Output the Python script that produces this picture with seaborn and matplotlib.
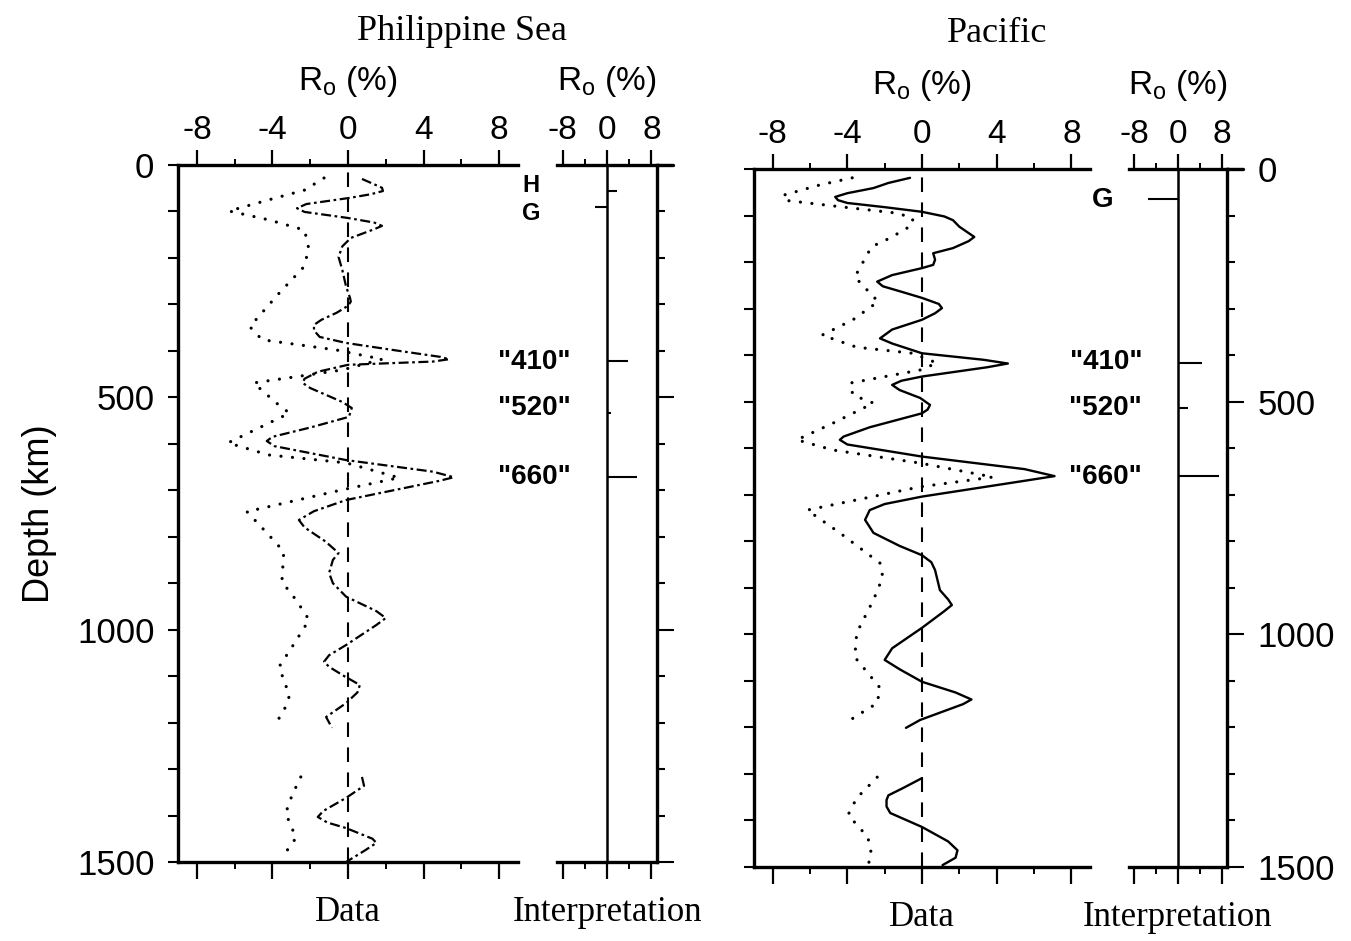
import numpy as np
import pandas as pd
import matplotlib
matplotlib.use("Agg")
import matplotlib.pyplot as plt
from matplotlib.ticker import FixedLocator
import seaborn as sns

# ---------------- data ----------------
# Philippine Sea - observed R_o (dash-dot curve), two depth segments
phs_obs_depth_a = [30, 40, 49, 56, 63, 71, 84, 93, 101, 114, 124, 131, 138, 157, 175, 198, 226, 262,
                   285, 294, 303, 318, 333, 344, 356, 370, 383, 400, 413, 418, 423, 430, 445, 460,
                   469, 480, 510, 523, 542, 565, 585, 594, 605, 635, 660, 672, 680, 721, 745, 764,
                   780, 810, 835, 850, 878, 900, 929, 960, 975, 990, 1033, 1055, 1069, 1080, 1100,
                   1119, 1135, 1158, 1188, 1211]
phs_obs_ro_a = [0.74, 1.3, 1.8, 1.85, 1.2, 0.05, -2.2, -2.7, -2.3, 0.0, 1.4, 1.8, 1.4, 0.15, -0.3,
                -0.5, -0.3, -0.1, 0.1, 0.15, 0.0, -0.6, -1.4, -1.8, -1.8, -1.5, -0.1, 2.7, 4.9, 5.35,
                4.5, 0.0, -1.6, -2.3, -2.4, -2.0, -0.3, 0.2, 0.05, -2.0, -4.0, -4.3, -3.9, -0.1, 4.5,
                5.6, 4.8, -0.1, -1.8, -2.6, -2.3, -1.2, -0.5, -0.8, -1.0, -0.8, -0.1, 1.5, 2.0, 1.5,
                -0.1, -1.0, -1.27, -1.0, -0.2, 0.63, 0.5, -0.1, -1.16, -0.85]
phs_obs_depth_b = [1317, 1336, 1362, 1390, 1403, 1415, 1427, 1450, 1459, 1475, 1500]
phs_obs_ro_b = [0.74, 0.85, -0.1, -1.3, -1.6, -1.1, -0.1, 1.3, 1.5, 0.9, -0.1]

# Philippine Sea - dotted curve
phs_dot_depth_a = [28, 54, 75, 99, 118, 140, 183, 222, 276, 348, 376, 398, 418, 441, 469, 512, 534,
                   598, 624, 641, 673, 699, 746, 796, 832, 897, 936, 979, 1037, 1080, 1142, 1166, 1201]
phs_dot_ro_a = [-1.27, -2.3, -4.2, -6.3, -4.2, -2.3, -2.06, -2.4, -3.65, -5.2, -4.55, -0.63, 1.8, -0.3,
                -5.0, -3.8, -3.1, -6.35, -4.2, -0.1, 2.7, -0.3, -5.35, -4.2, -3.4, -3.5, -2.75, -2.06,
                -2.96, -3.65, -3.1, -3.3, -3.8]
phs_dot_depth_b = [1317, 1356, 1395, 1448, 1485]
phs_dot_ro_b = [-2.5, -2.96, -3.3, -2.75, -3.4]

# Pacific - observed R_o (solid curve)
pac_obs_depth_a = [19, 30, 41, 52, 60, 67, 73, 82, 92, 102, 110, 124, 135, 146, 155, 170, 181, 195,
                   206, 213, 228, 242, 252, 265, 277, 290, 299, 310, 324, 345, 364, 375, 396, 410,
                   418, 426, 446, 455, 464, 475, 492, 507, 517, 525, 555, 575, 582, 592, 618, 645,
                   660, 670, 704, 720, 733, 754, 782, 810, 830, 845, 862, 905, 925, 937, 950, 986,
                   1030, 1055, 1075, 1102, 1125, 1140, 1150, 1184, 1201]
pac_obs_ro_a = [-0.64, -1.8, -2.6, -4.0, -4.65, -4.5, -4.0, -2.0, 0.0, 1.2, 1.66, 2.0, 2.4, 2.8, 2.5,
                1.66, 0.6, 0.7, 0.6, 0.0, -1.6, -2.4, -2.1, -1.0, 0.0, 0.9, 1.07, 0.7, 0.0, -1.6,
                -2.25, -1.6, 0.0, 3.3, 4.6, 3.5, 0.0, -1.1, -1.6, -1.2, -0.1, 0.43, 0.3, 0.0, -2.8,
                -4.2, -4.4, -4.0, 0.0, 5.5, 7.1, 5.5, 0.0, -2.0, -2.8, -3.05, -2.6, -1.2, 0.0, 0.5,
                0.7, 0.96, 1.4, 1.6, 1.2, 0.0, -1.6, -2.0, -1.2, 0.0, 1.8, 2.65, 2.2, -0.1, -0.86]
pac_obs_depth_b = [1309, 1330, 1346, 1356, 1370, 1384, 1414, 1445, 1464, 1480, 1496]
pac_obs_ro_b = [0.0, -1.0, -1.8, -1.9, -1.9, -1.7, 0.0, 1.4, 1.9, 1.8, 1.1]

# Pacific - dotted curve
pac_dot_depth_a = [19, 34, 56, 67, 81, 95, 106, 120, 148, 167, 232, 285, 324, 357, 383, 396, 417, 432,
                   460, 486, 503, 546, 582, 604, 632, 662, 683, 733, 782, 847, 877, 926, 997, 1049,
                   1115, 1148, 1180, 1199]
pac_dot_ro_a = [-3.74, -5.45, -7.4, -7.4, -4.4, -1.3, -0.5, -0.5, -1.7, -2.7, -3.6, -2.35, -3.7, -5.35,
                -3.5, -0.5, 0.8, -0.1, -3.85, -3.7, -2.6, -4.76, -6.7, -4.76, -0.1, 3.8, -0.1, -6.15,
                -4.4, -2.25, -2.1, -2.6, -3.5, -3.6, -2.25, -2.4, -3.7, -4.0]
pac_dot_depth_b = [1307, 1352, 1388, 1436, 1474, 1496]
pac_dot_ro_b = [-2.4, -3.5, -3.96, -2.9, -2.7, -2.9]

# Interpretation bars
phs_int_depth = [56, 90, 422, 534, 671]
phs_int_ro = [1.8, -2.2, 3.8, 0.7, 5.4]
pac_int_depth = [64, 417, 514, 660]
pac_int_ro = [-5.5, 4.4, 1.8, 7.5]

# Discontinuity labels
phs_lab_text = ["H", "G", '"410"', '"520"', '"660"']
phs_lab_depth = [44, 104, 424, 523, 671]
pac_lab_text = ["G", '"410"', '"520"', '"660"']
pac_lab_depth = [67, 415, 514, 662]

titles = ["Philippine Sea", "Pacific"]
depth_ticks = [0, 500, 1000, 1500]
ro_major = [-8, -4, 0, 4, 8]
ro_minor = [-6, -2, 2, 6]
int_major = [-8, 0, 8]
int_minor = [-4, 4]

# ---------------- style ----------------
sns.set_style("ticks")
plt.rcParams["font.family"] = ["Liberation Sans", "DejaVu Sans"]
plt.rcParams["axes.unicode_minus"] = False
plt.rcParams["mathtext.fontset"] = "custom"
plt.rcParams["mathtext.rm"] = "Liberation Sans"
for k in ("text.color", "axes.labelcolor", "xtick.color", "ytick.color", "axes.edgecolor"):
    plt.rcParams[k] = "black"
SERIF = ["Liberation Serif", "DejaVu Serif"]

W, H = 1351, 941
fig = plt.figure(figsize=(W / 100, H / 100), dpi=100)


def frac(l, t, r, b):
    return [l / W, 1 - b / H, (r - l) / W, (b - t) / H]


ax_pd = fig.add_axes(frac(178, 165, 518, 862))
ax_pi = fig.add_axes(frac(557, 165, 657, 862))
ax_cd = fig.add_axes(frac(754, 169, 1090, 867))
ax_ci = fig.add_axes(frac(1129, 169, 1227, 867))
for a in (ax_pd, ax_pi, ax_cd, ax_ci):
    a.patch.set_visible(False)

dot_ls = (0, (0.01, 3.6))
dashdot_ls = (0, (4.5, 1.6, 1.2, 1.6))


def curve(ax, d, r, ls, lw, cap="butt"):
    df = pd.DataFrame({"depth": d, "ro": r})
    sns.lineplot(data=df, x="ro", y="depth", orient="y", sort=False, estimator=None,
                 color="black", linestyle=ls, linewidth=lw, dash_capstyle=cap,
                 solid_joinstyle="round", ax=ax)


def setup_common(ax):
    ax.set_xlim(-9, 9)
    ax.set_ylim(1500, 0)
    ax.xaxis.set_ticks_position("top")
    ax.xaxis.set_label_position("top")
    ax.tick_params(axis="x", which="major", length=11, width=1.6, labelsize=24, pad=3,
                   direction="out", colors="black")
    ax.tick_params(axis="x", which="minor", length=4.5, width=1.4, direction="out")
    sec = ax.secondary_xaxis("bottom")
    sec.set_xticks(ax.get_xticks())
    sec.xaxis.set_minor_locator(ax.xaxis.get_minor_locator())
    sec.tick_params(axis="x", which="major", length=12, width=1.6, direction="out", labelbottom=False)
    sec.tick_params(axis="x", which="minor", length=5, width=1.4, direction="out")
    sec.spines["bottom"].set_linewidth(2.4)
    ax.set_xlabel(r"$\mathregular{R_o}$ (%)", fontsize=24, labelpad=18)
    for s in ax.spines.values():
        s.set_linewidth(2.4)
    ax.spines["bottom"].set_visible(False)


def data_panel(ax, ylabels):
    ax.set_xticks(ro_major)
    ax.xaxis.set_minor_locator(FixedLocator(ro_minor))
    setup_common(ax)
    ax.spines["right"].set_visible(False)
    ax.set_yticks(depth_ticks)
    ax.yaxis.set_minor_locator(FixedLocator(np.arange(0, 1501, 100)))
    ax.tick_params(axis="y", which="both", length=7, width=1.5, direction="out", labelsize=25,
                   pad=10, left=True, right=False, labelleft=ylabels)
    ax.axvline(0, color="black", lw=1.5, linestyle=(0, (7, 5)))
    ax.text(0, -0.072, "Data", transform=ax.get_xaxis_transform(), ha="center", va="center",
            fontsize=25, family=SERIF)


def interp_panel(ax, d, r, ylabels):
    ax.set_xticks(int_major)
    ax.xaxis.set_minor_locator(FixedLocator(int_minor))
    setup_common(ax)
    ax.spines["left"].set_visible(False)
    ax.yaxis.set_ticks_position("right")
    ax.set_yticks(depth_ticks)
    ax.yaxis.set_minor_locator(FixedLocator(np.arange(0, 1501, 100)))
    ax.tick_params(axis="y", which="major", length=12, width=1.5, direction="out", labelsize=25,
                   pad=10, right=True, left=False, labelright=ylabels, labelleft=False)
    ax.tick_params(axis="y", which="minor", length=6, width=1.5, direction="out",
                   right=True, left=False)
    ax.axvline(0, color="black", lw=1.8)
    ax.hlines(d, 0, r, color="black", lw=1.5)
    ax.plot([1, 1.16], [1, 1], transform=ax.transAxes, color="black", lw=2.4, clip_on=False)
    ax.text(0, -0.072, "Interpretation", transform=ax.get_xaxis_transform(), ha="center",
            va="center", fontsize=25, family=SERIF)


# Philippine Sea
curve(ax_pd, phs_dot_depth_a, phs_dot_ro_a, dot_ls, 2.3, "round")
curve(ax_pd, phs_dot_depth_b, phs_dot_ro_b, dot_ls, 2.3, "round")
curve(ax_pd, phs_obs_depth_a, phs_obs_ro_a, dashdot_ls, 1.6)
curve(ax_pd, phs_obs_depth_b, phs_obs_ro_b, dashdot_ls, 1.6)
data_panel(ax_pd, True)
ax_pd.set_ylabel("Depth (km)", fontsize=26, labelpad=14)
interp_panel(ax_pi, phs_int_depth, phs_int_ro, False)
for t, d in zip(phs_lab_text, phs_lab_depth):
    q = t.startswith('"')
    ax_pd.text(9.85 if q else 9.7, d, t, ha="center", va="center", fontsize=20 if q else 17,
               fontweight="bold", clip_on=False)

# Pacific
curve(ax_cd, pac_dot_depth_a, pac_dot_ro_a, dot_ls, 2.3, "round")
curve(ax_cd, pac_dot_depth_b, pac_dot_ro_b, dot_ls, 2.3, "round")
curve(ax_cd, pac_obs_depth_a, pac_obs_ro_a, "-", 1.7)
curve(ax_cd, pac_obs_depth_b, pac_obs_ro_b, "-", 1.7)
data_panel(ax_cd, False)
ax_cd.set_ylabel("")
interp_panel(ax_ci, pac_int_depth, pac_int_ro, True)
for t, d in zip(pac_lab_text, pac_lab_depth):
    q = t.startswith('"')
    ax_cd.text(9.85 if q else 9.7, d, t, ha="center", va="center", fontsize=20,
               fontweight="bold", clip_on=False)

for a in (ax_pi, ax_ci):
    a.set_ylabel("")

fig.text(462 / W, 1 - 31 / H, titles[0], ha="center", va="center", fontsize=26, family=SERIF)
fig.text(997 / W, 1 - 33 / H, titles[1], ha="center", va="center", fontsize=26, family=SERIF)

fig.savefig("out.png", dpi=100, facecolor="white")
